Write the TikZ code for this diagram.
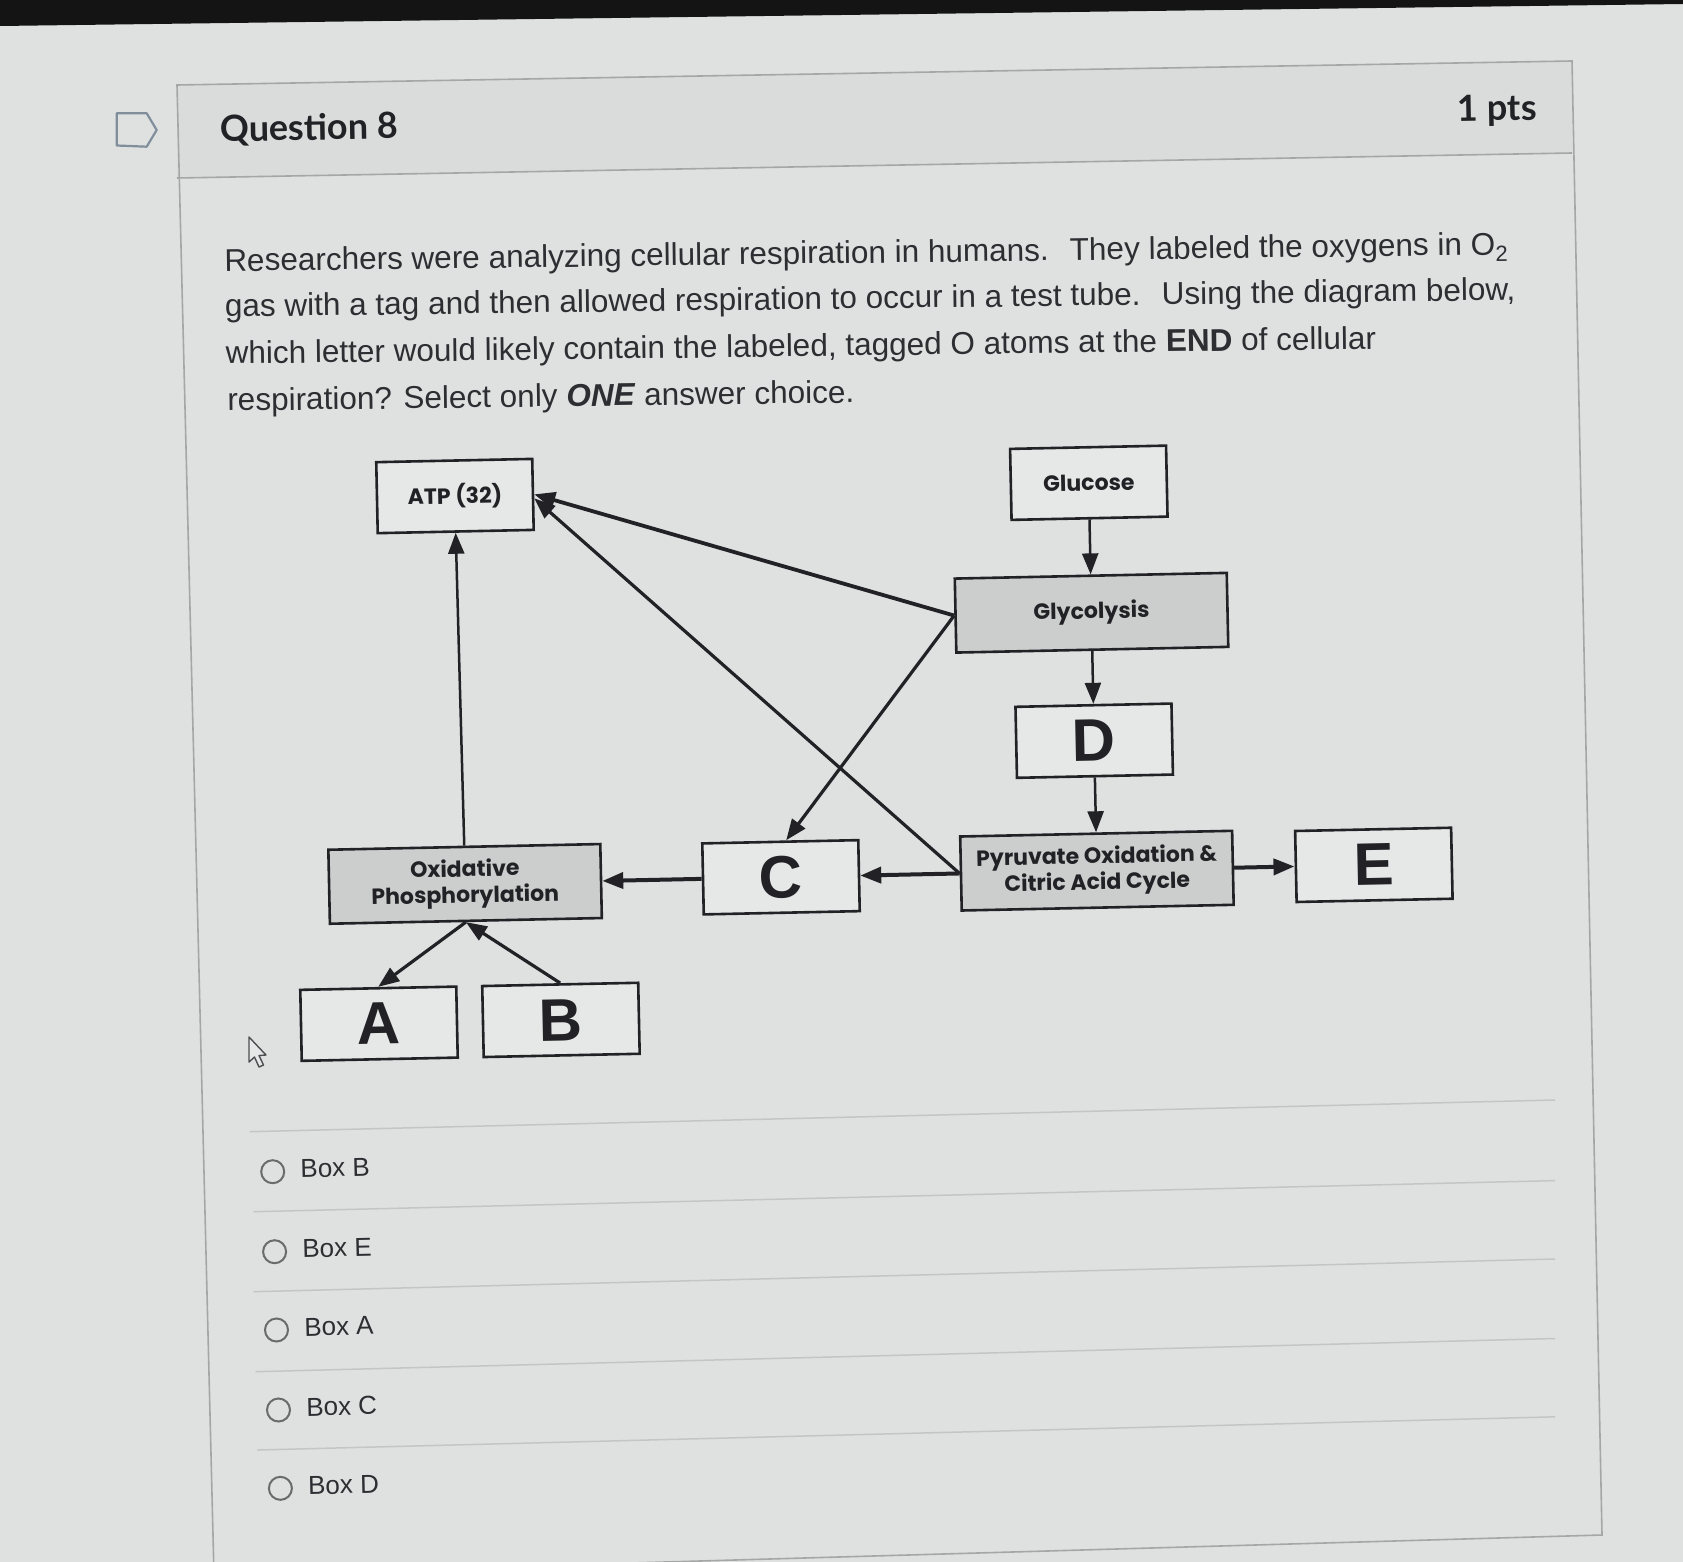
\documentclass[tikz,border=0pt]{standalone}
\usepackage{fontspec}
\setmainfont{Lato}
\newfontfamily\pop{Poppins}
\newfontfamily\lib{Liberation Sans}
\usetikzlibrary{arrows.meta}
\definecolor{bgc}{RGB}{223,225,224}
\definecolor{hdrc}{RGB}{218,220,219}
\definecolor{boxg}{RGB}{204,206,205}
\definecolor{boxw}{RGB}{230,232,231}
\definecolor{ink}{RGB}{34,34,38}
\definecolor{txt}{RGB}{44,46,50}
\definecolor{sepc}{RGB}{196,198,197}
\definecolor{bord}{RGB}{165,167,166}
\definecolor{iconc}{RGB}{128,142,156}
\definecolor{radc}{RGB}{105,107,108}
\begin{document}
\begin{tikzpicture}[x=1pt,y=-1pt,
  wbox/.style={draw=ink, line width=2.6pt, fill=boxw, minimum width=156pt, minimum height=71pt,
    inner sep=0pt, align=center, text=ink, font=\pop\bfseries\fontsize{22}{26}\selectfont},
  gbox/.style={wbox, fill=boxg, minimum width=272pt, minimum height=74pt},
  letter/.style={wbox, font=\lib\bfseries\fontsize{60}{60}\selectfont},
  conn/.style={draw=ink, line width=3.2pt, -{Triangle[length=21pt,width=16pt]}},
  thinconn/.style={conn, line width=2.5pt},
  qline/.style={anchor=base west, inner sep=0pt, text=txt, rotate=0.75, font=\lib\fontsize{31.5}{36}\selectfont},
  ans/.style={anchor=base west, inner sep=0pt, text=txt, rotate=1.3, font=\lib\fontsize{26}{30}\selectfont},
  radio/.style={circle, draw=radc, line width=2pt, minimum size=23pt, inner sep=0pt},
  hdr/.style={anchor=base west, inner sep=0pt, text=ink, rotate=1, font=\bfseries\fontsize{36}{40}\selectfont}]
\path[use as bounding box] (0,0) rectangle (1683,1562);
\clip (0,0) rectangle (1683,1562);
\fill[bgc] (0,0) rectangle (1683,1562);
% top dark bar
\fill[black!92] (0,0) -- (1683,0) -- (1683,4) -- (0,26) -- cycle;
% question box
\fill[hdrc] (177,85) -- (1572,61) -- (1572,153) -- (177,178) -- cycle;
\draw[bord, line width=1.6pt] (177,85) -- (1572,61) -- (1602,1535) -- (214,1575) -- cycle;
\draw[bord, line width=1.6pt] (177,178) -- (1572,153);
% bookmark icon
\draw[iconc, line width=2.2pt, line join=round] (116.7,113.3) -- (146.7,113.3) -- (156.7,130) -- (146.7,146.7) -- (116.7,145.5) -- cycle;
\node[hdr] (qtitle) at (220,141.7) {Question 8};
\node[hdr] (pts) at (1457.6,121.3) {1 pts};
% question text
\node[qline] (l1) at (224.3,271.5) {Researchers were analyzing cellular respiration in humans.\hspace{0.3em} They labeled the oxygens in O\textsubscript{2}};
\node[qline] (l2) at (225,317) {gas with a tag and then allowed respiration to occur in a test tube.\hspace{0.3em} Using the diagram below,};
\node[qline] (l3) at (225.7,364) {which letter would likely contain the labeled, tagged O atoms at the \textbf{END} of cellular};
\node[qline] (l4) at (227.3,411) {respiration? Select only \textbf{\textit{ONE}} answer choice.};
% diagram
\begin{scope}[rotate around={1.2:(841,781)}, transform shape]
\node[wbox] (atp) at (461,488) {ATP (32)};
\node[wbox] (glu) at (1095,488) {Glucose};
\node[gbox] (gly) at (1095,618) {Glycolysis};
\node[letter] (d) at (1095,746) {D};
\node[gbox] (pyr) at (1095,876) {Pyruvate Oxidation \&\\Citric Acid Cycle};
\node[letter] (e) at (1372,876) {E};
\node[letter] (c) at (779,876) {C};
\node[gbox] (ox) at (463,876) {Oxidative\\Phosphorylation};
\node[letter] (a) at (374,1014) {A};
\node[letter] (b) at (556,1014) {B};
\draw[thinconn] (glu.south) -- (gly.north);
\draw[thinconn] (gly.south) -- (d.north);
\draw[thinconn] (d.south) -- (pyr.north);
\draw[conn, line width=4pt] (pyr.east) -- (e.west);
\draw[conn, line width=4pt] (pyr.west) -- (c.east);
\draw[conn, line width=4pt] (c.west) -- (ox.east);
\draw[thinconn] (ox.north) -- (atp.south);
\draw[conn, line width=3.8pt] (gly.west) -- (atp.east);
\draw[conn] (pyr.west) -- ([yshift=-4pt]atp.east);
\draw[conn] (gly.west) -- ([xshift=6pt]c.north);
\draw[conn] (ox.south) -- (a.north);
\draw[conn] (b.north) -- (ox.south);
\end{scope}
% cursor
\draw[ink!80, line width=1.4pt, fill=boxw, line join=round] (249,1037) -- (249,1062) -- (254.5,1057) -- (259,1067) -- (263.5,1065) -- (259,1055.5) -- (266,1055) -- cycle;
% answers
\draw[sepc, line width=1.5pt] (249.7,1131.7) -- (1555,1100);
\draw[sepc, line width=1.5pt] (253.6,1211.7) -- (1555,1180.6);
\draw[sepc, line width=1.5pt] (253.6,1291.7) -- (1555,1259);
\draw[sepc, line width=1.5pt] (255.5,1371.7) -- (1555,1338.5);
\draw[sepc, line width=1.5pt] (257.4,1450) -- (1555,1416.8);
\node[radio] (r1) at (272.7,1171.7) {};
\node[radio] (r2) at (274.6,1251.7) {};
\node[radio] (r3) at (276.5,1330) {};
\node[radio] (r4) at (278.5,1410) {};
\node[radio] (r5) at (280.4,1488.3) {};
\node[ans] (t1) at (300.5,1177.5) {Box B};
\node[ans] (t2) at (302.4,1257.5) {Box E};
\node[ans] (t3) at (304.3,1336) {Box A};
\node[ans] (t4) at (306.3,1416) {Box C};
\node[ans] (t5) at (308.2,1494.5) {Box D};
\end{tikzpicture}
\end{document}
